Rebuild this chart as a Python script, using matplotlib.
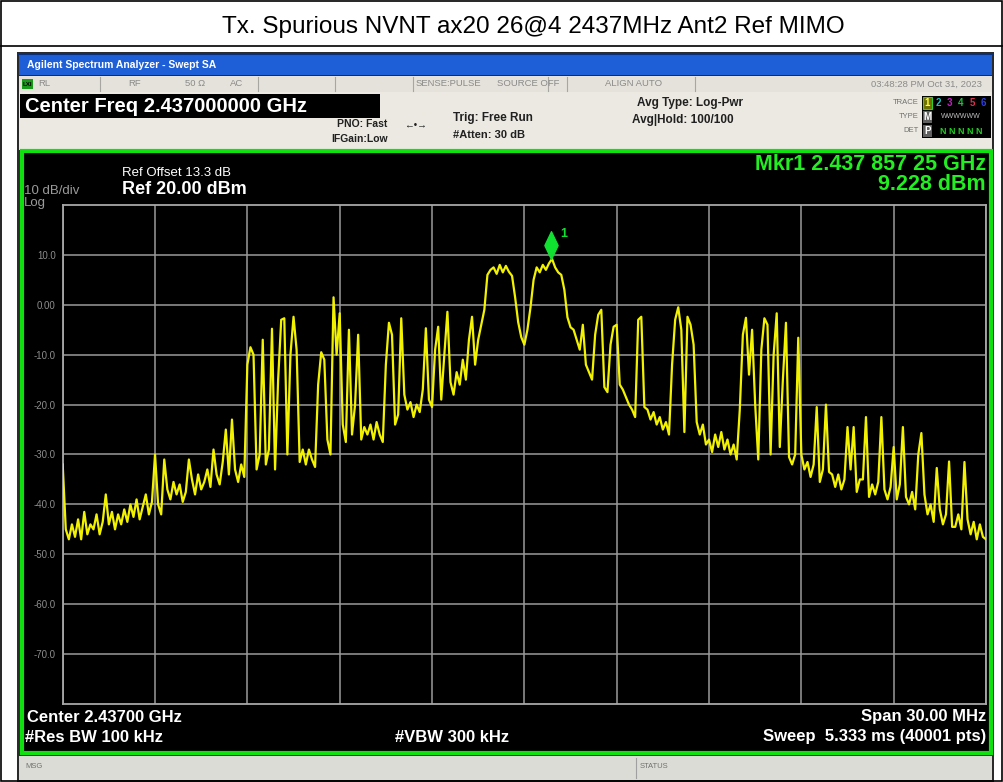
import numpy as np
import matplotlib.pyplot as plt
from matplotlib.patches import Rectangle
from matplotlib.lines import Line2D
from matplotlib.path import Path

plt.rcParams['font.family'] = ['Liberation Sans', 'DejaVu Sans']

#### Data
title = 'Tx. Spurious NVNT ax20 26@4 2437MHz Ant2 Ref MIMO'
center_mhz = 2437.0
span_mhz = 30.0
step_mhz = 0.1          # one reading every 0.1 MHz
ref_level = 20.0
n_div = 10
db_per_div = 10.0

# trace level (dBm), -15 MHz ... +15 MHz around the centre
level_dbm = [
    -32, -45, -47, -44, -46.5, -43, -47, -41.5, -46, -44,
    -45, -42, -46, -43.5, -38, -44, -41.5, -45, -42, -44,
    -41, -43.5, -40, -42.5, -39, -43, -40.5, -38, -42, -39.5,
    -30, -40, -42, -31, -37, -39, -35.5, -38, -36, -39.5,
    -37.5, -31, -35, -38, -34, -37, -35.5, -33, -36.5, -29,
    -34, -36, -31.5, -25, -34, -23, -33, -35.5, -32, -34.5,
    -12, -8.5, -10, -33, -30, -7, -32, -29, -4.8, -33,
    -15, -3, -2.7, -30, -10, -2.4, -9, -31.5, -29, -32,
    -29, -31, -32.5, -16, -9.5, -11, -27, -30, 1.5, -10,
    -1.7, -24, -27.5, -5, -26, -20, -6, -27, -24.5, -26,
    -24, -27, -23.5, -26, -27.5, -12, -3.6, -6, -24, -22,
    -2.7, -18, -21, -19.5, -22.5, -20, -21.5, -17, -4.7, -19,
    -20.5, -9, -4.4, -19, -10, -1.4, -15.5, -18, -13.5, -16,
    -11, -15, -7, -2.4, -12, -7, -4, -1, 6, 7,
    7.5, 6.2, 8, 6.5, 7.8, 6.6, 5.8, 1.5, -3.5, -6.5,
    -8, -5, -0.5, 5, 7.5, 6.5, 8, 7, 8.3, 9.2,
    7.5, 6.5, 6, 3, -2.5, -4.5, -5, -7, -9, -4,
    -12, -13.5, -15, -6, -2, -1, -16.5, -17.5, -8, -4.4,
    -4, -16, -17, -18.5, -20, -21, -22.5, -3, -2.4, -20.5,
    -21, -23, -21.5, -24, -22.5, -25, -23.5, -26, -12, -3,
    -0.5, -5, -25.5, -2.4, -4, -8, -23.5, -26, -24, -28,
    -27, -29.5, -26, -28.5, -25.5, -29, -27, -30, -28, -31,
    -21, -6, -2.6, -14, -5, -20, -31, -9, -2.7, -4,
    -30, -10, -1.7, -28.5, -15, -3.6, -30.5, -32, -30, -6.6,
    -30, -33, -31.5, -34.5, -32, -20.5, -35.5, -33, -20, -33.5,
    -34, -36.5, -34, -37, -35, -24.5, -33, -24.5, -37.5, -35,
    -35, -22.5, -38.5, -36, -38, -35.5, -22.5, -37, -39, -36.5,
    -28.5, -39, -36, -24.5, -38.5, -40, -37.5, -41, -30, -25.7,
    -38, -42, -40, -43.5, -32.7, -41, -44, -42, -31.4, -44.5,
    -44.5, -42, -45, -31.5, -43, -46, -43.5, -47, -44, -46.5,
    -47,
]

mkr_freq_mhz = 2437.85725
mkr_level_dbm = 9.228

ytick_vals = [10, 0, -10, -20, -30, -40, -50, -60, -70]
ytick_labels = ['10.0', '0.00', '-10.0', '-20.0', '-30.0', '-40.0', '-50.0', '-60.0', '-70.0']

freq_mhz = center_mhz - span_mhz / 2 + step_mhz * np.arange(len(level_dbm))

#### Figure, pixel helpers
W, H = 1004, 782
fig = plt.figure(figsize=(W / 100, H / 100), dpi=100)
fig.patch.set_facecolor('white')


def box(x0, y0, x1, y1, **kw):
    kw.setdefault('zorder', -5)
    fig.patches.append(Rectangle((x0 / W, 1 - y1 / H), (x1 - x0) / W, (y1 - y0) / H,
                                 transform=fig.transFigure, **kw))


def line(x0, y0, x1, y1, **kw):
    kw.setdefault('zorder', -4)
    fig.add_artist(Line2D([x0 / W, x1 / W], [1 - y0 / H, 1 - y1 / H],
                          transform=fig.transFigure, **kw))


def txt(x, y, s, **kw):
    kw.setdefault('va', 'center')
    fig.text(x / W, 1 - y / H, s, **kw)


# table around the picture
box(1, 1, 1002, 781, facecolor='none', edgecolor='black', linewidth=1.2, zorder=5)
line(1, 46, 1002, 46, color='black', linewidth=1.2)
txt(533, 27, title, ha='center', fontsize=17.5, color='black')

# analyzer window
box(17, 52, 994, 782, facecolor='#2b2b2b', edgecolor='none', zorder=-9)
box(19, 54, 992, 75, facecolor='#1e5fd8', edgecolor='none', zorder=-8)
line(19, 54, 992, 54, color='#0a2f7a', linewidth=1.5)
txt(27, 65, 'Agilent Spectrum Analyzer - Swept SA', fontsize=7.5, color='white', fontweight='bold')

# status strip
box(19, 76, 992, 92, facecolor='#e4e2da', edgecolor='none', zorder=-8)
for sx in [100, 258, 335, 413, 548, 567, 695]:
    line(sx, 77, sx, 91, color='#a8a6a0', linewidth=0.8)
box(22, 79, 33, 89, facecolor='#1a9a1a', edgecolor='none', zorder=-3)
txt(23, 84, 'LXI', fontsize=4.5, color='black', fontweight='bold')
st = dict(fontsize=6.8, color='#8a8a8a')
txt(38, 84, 'RL', **st)
txt(128, 84, 'RF', **st)
txt(185, 84, '50 Ω', **st)
txt(230, 84, 'AC', **st)
txt(416, 84, 'SENSE:PULSE', **st)
txt(497, 84, 'SOURCE OFF', **st)
txt(605, 84, 'ALIGN AUTO', **st)
txt(982, 84, '03:48:28 PM Oct 31, 2023', ha='right', **st)

# settings panel
box(19, 92, 992, 150, facecolor='#ebe9e1', edgecolor='none', zorder=-8)
box(20, 94, 380, 118, facecolor='black', edgecolor='none', zorder=-7)
txt(25, 106, 'Center Freq 2.437000000 GHz', fontsize=14.5, color='white', fontweight='bold')
pn = dict(fontsize=7.5, color='#202020', fontweight='bold')
txt(337, 124, 'PNO: Fast', **pn)
txt(404, 124, '←•→', fontsize=7, color='#202020')
txt(331, 139, 'IFGain:Low', **pn)
txt(453, 118, 'Trig: Free Run', fontsize=8.5, color='#202020', fontweight='bold')
txt(453, 135, '#Atten: 30 dB', fontsize=8, color='#202020', fontweight='bold')
txt(637, 103, 'Avg Type: Log-Pwr', fontsize=8.5, color='#202020', fontweight='bold')
txt(632, 120, 'Avg|Hold: 100/100', fontsize=8.5, color='#202020', fontweight='bold')

# trace legend box
tl = dict(fontsize=5.5, color='#707070', ha='right')
txt(919, 103, 'TRACE', **tl)
txt(919, 117, 'TYPE', **tl)
txt(919, 131, 'DET', **tl)
box(922, 96, 991, 138, facecolor='black', edgecolor='none', zorder=-7)
box(923, 97, 932, 109, facecolor='#707000', edgecolor='#30d030', linewidth=0.8, zorder=-6)
box(923, 111, 932, 123, facecolor='#606060', edgecolor='none', zorder=-6)
box(923, 125, 932, 137, facecolor='#606060', edgecolor='none', zorder=-6)
for k, (cc, dc) in enumerate(zip(['#ffff40', '#20c0c0', '#c020c0', '#20c040', '#e03050', '#3040e0'],
                                ['1', '2', '3', '4', '5', '6'])):
    txt(927.5 + 11.2 * k, 103, dc, fontsize=7, color=cc, ha='center', fontweight='bold')
txt(927.5, 117, 'M', fontsize=7, color='white', ha='center', fontweight='bold')
txt(961, 117, 'WWWWWW', fontsize=5, color='#c0c0c0', ha='center')
txt(927.5, 131, 'P', fontsize=7, color='white', ha='center', fontweight='bold')
txt(961, 131, 'N N N N N', fontsize=6.5, color='#20d020', ha='center', fontweight='bold')

# black screen with green frame
box(22, 151, 991, 753, facecolor='black', edgecolor='#10e010', linewidth=3, zorder=-7)

# message bar
box(19, 756, 992, 780, facecolor='#dcdcd6', edgecolor='none', zorder=-8)
line(636, 758, 636, 778, color='#a0a0a0', linewidth=0.8)
txt(25, 766, 'MSG', fontsize=5.5, color='#707070')
txt(640, 766, 'STATUS', fontsize=5.5, color='#707070')

#### Spectrum axes
x0, x1, y0, y1 = 62.7, 986.0, 205.0, 704.0
ax = fig.add_axes([x0 / W, 1 - y1 / H, (x1 - x0) / W, (y1 - y0) / H])
ax.set_facecolor('black')
f_lo = center_mhz - span_mhz / 2
f_hi = center_mhz + span_mhz / 2
ax.set_xlim(f_lo, f_hi)
ax.set_ylim(ref_level - n_div * db_per_div, ref_level)
ax.set_xticks(np.linspace(f_lo, f_hi, n_div + 1))
ax.set_yticks(ytick_vals, ytick_labels)
ax.tick_params(axis='x', length=0, labelbottom=False)
ax.tick_params(axis='y', length=0, labelsize=7, labelcolor='#8c8c8c', pad=5)
ax.grid(True, color='#9a9a9a', linewidth=1.1)
for s in ax.spines.values():
    s.set_color('#a8a8a8')
    s.set_linewidth(1.3)

ax.plot(freq_mhz, level_dbm, color='#f2f200', linewidth=1.6, zorder=3)

# marker 1, diamond sitting on the trace
diam = Path([(0, 0), (-0.5, 1.05), (0, 2.1), (0.5, 1.05), (0, 0)])
ax.plot([mkr_freq_mhz], [mkr_level_dbm], marker=diam, markersize=40,
        color='#10e030', linestyle='none', zorder=4, clip_on=False)
ax.annotate('1', (mkr_freq_mhz, mkr_level_dbm), xytext=(7, 18), textcoords='offset points',
            color='#10e030', fontsize=9, fontweight='bold', ha='left', va='center')

#### Screen annotations
txt(122, 173, 'Ref Offset 13.3 dB', fontsize=9.5, color='white')
txt(122, 190, 'Ref %.2f dBm' % ref_level, fontsize=13, color='white', fontweight='bold')
txt(24, 191, '%d dB/div' % db_per_div, fontsize=9.5, color='#9a9a9a')
txt(24, 203, 'Log', fontsize=9.5, color='#9a9a9a')

gmk = '%.8f' % (mkr_freq_mhz / 1000)
gmk = gmk[:5] + ' ' + gmk[5:8] + ' ' + gmk[8:]
txt(986, 165, 'Mkr1 %s GHz' % gmk, fontsize=15.5, color='#22ee22', fontweight='bold', ha='right')
txt(986, 185, '%.3f dBm' % mkr_level_dbm, fontsize=15.5, color='#22ee22', fontweight='bold', ha='right')

bt = dict(fontsize=12, color='white', fontweight='bold')
txt(27, 717, 'Center %.5f GHz' % (center_mhz / 1000), **bt)
txt(25, 737, '#Res BW 100 kHz', **bt)
txt(395, 737, '#VBW 300 kHz', **bt)
txt(986, 717, 'Span %.2f MHz' % span_mhz, ha='right', **bt)
txt(986, 737, 'Sweep  5.333 ms (40001 pts)', ha='right', **bt)

fig.savefig('out.png', dpi=100, facecolor=fig.get_facecolor())
